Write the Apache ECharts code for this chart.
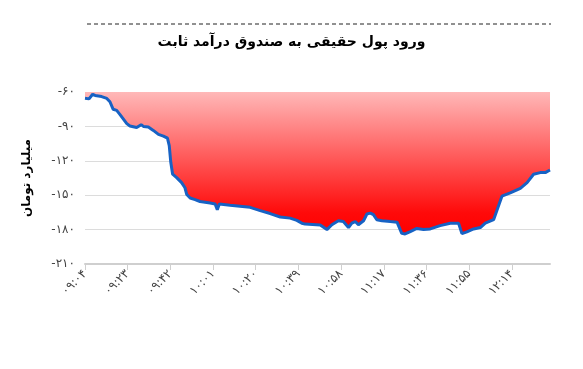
<!DOCTYPE html>
<html>
<head>
<meta charset="utf-8">
<script src="https://cdn.jsdelivr.net/npm/echarts@6/dist/echarts.min.js"></script>
<style>html,body{margin:0;padding:0;background:#fff;}#c{width:583px;height:369px;}</style>
</head>
<body>
<div id="c"></div>
<script>
// minutes after 09:04
var minutes = [0,1.8,3.4,4.5,7.4,9.7,11.1,12.5,14.1,15.6,18.6,20,23,25,26,28.2,30.4,32.7,34.9,36.7,37.5,38.2,39,40.8,43,44.5,45.3,46.8,49,51.2,55.7,57.9,58.9,59.8,64.6,69,73.5,78,82.4,86.9,91.3,94.3,96.5,98,104.7,107.7,109.9,112.8,115,117.3,118.8,120.3,121.7,124,125.5,127,128.4,129.9,132.2,135.9,138.9,141,142.5,144.8,147.7,150.7,153.7,158.1,162.6,166.3,167.8,170,173,176,178.2,181.9,185.6,189.3,193.8,196.8,199.7,202.7,204.9,207];
var values = [-65.5,-66,-62,-63,-64,-65.6,-68.5,-75,-76,-79.7,-87.6,-89.7,-91,-88.5,-90,-90.6,-93.5,-97,-98.5,-100.3,-106.8,-121.5,-131.7,-134.7,-139,-143.5,-149.4,-152.4,-153.8,-155.5,-156.8,-157.6,-162.6,-157.6,-158.8,-159.7,-160.6,-163.5,-166,-169,-170,-172,-174.4,-175.2,-176,-180,-175.8,-172.3,-172.9,-178.2,-174.4,-173,-175.8,-172.3,-166.4,-165.6,-167,-171.4,-172.3,-173,-173.5,-183.3,-183.8,-181.8,-179,-180,-179.4,-176.5,-174.4,-174.4,-183.5,-182,-179.4,-178.2,-174.4,-171.4,-150.9,-148,-144,-139,-131.7,-130.3,-130.3,-128];
var tickMinutes = [0,19,38,57,76,95,114,133,152,171,190];
var tickLabels = ['09:04','09:23','09:42','10:01','10:20','10:39','10:58','11:17','11:36','11:55','12:14'];
var titleText = 'ورود پول حقیقی به صندوق درآمد ثابت';
var yName = 'میلیارد تومان';

function fa(s){ return String(s).replace(/[0-9]/g, function(d){ return '۰۱۲۳۴۵۶۷۸۹'[+d]; }); }

var data = minutes.map(function(m,i){ return [m, values[i]]; });
var chart = echarts.init(document.getElementById('c'));
chart.setOption({
  animation: false,
  textStyle: { fontFamily: 'DejaVu Sans' },
  title: {
    text: titleText, left: 'center', top: 30,
    textStyle: { fontFamily: 'DejaVu Sans', fontSize: 14, fontWeight: 'bold', color: '#000' }
  },
  graphic: [{
    type: 'line', shape: { x1: 87, y1: 24, x2: 551, y2: 24 },
    style: { stroke: '#222', lineWidth: 1, lineDash: [4, 3] }
  }],
  grid: { left: 85, right: 33, top: 92, bottom: 105 },
  xAxis: {
    type: 'value', min: 0, max: 207, interval: 19,
    axisLine: { show: true, lineStyle: { color: '#cfcfcf', width: 2 } },
    axisTick: { show: true, length: 6, lineStyle: { color: '#cfcfcf' }, customValues: tickMinutes },
    splitLine: { show: false },
    axisLabel: {
      rotate: 45, fontSize: 12, color: '#444', margin: 8,
      customValues: tickMinutes,
      formatter: function(v){ var i = tickMinutes.indexOf(v); return i >= 0 ? fa(tickLabels[i]) : ''; }
    }
  },
  yAxis: {
    type: 'value', min: -210, max: -60, interval: 30,
    name: yName, nameLocation: 'middle', nameRotate: 90, nameGap: 52,
    nameTextStyle: { fontFamily: 'DejaVu Sans', fontSize: 12, fontWeight: 'bold', color: '#000' },
    axisLine: { show: false }, axisTick: { show: false },
    splitLine: { lineStyle: { color: '#dcdcdc', width: 1 } },
    axisLabel: { fontSize: 12, color: '#444', margin: 10, formatter: function(v){ return fa(v); } }
  },
  series: [{
    type: 'line', data: data, showSymbol: false, symbol: 'none',
    lineStyle: { color: '#1762c4', width: 3 },
    areaStyle: {
      origin: 'end', opacity: 1,
      color: new echarts.graphic.LinearGradient(0, 0, 0, 1, [
        { offset: 0, color: '#ffb8b8' },
        { offset: 0.85, color: '#ff0a0a' },
        { offset: 1, color: '#ff0000' }
      ])
    }
  }]
});
</script>
</body>
</html>
